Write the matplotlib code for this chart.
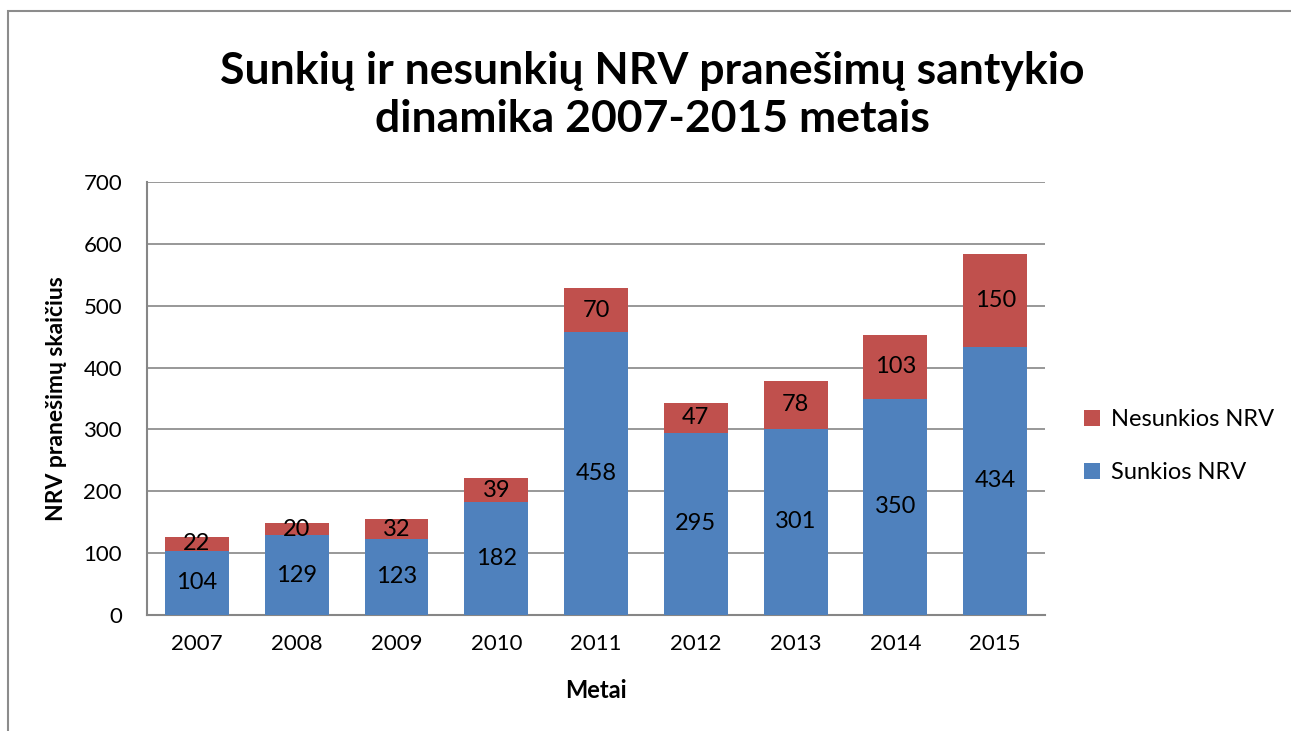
import numpy as np
import matplotlib
matplotlib.use("Agg")
import matplotlib.pyplot as plt
from matplotlib.patches import Rectangle

plt.rcParams["font.family"] = ["Lato", "DejaVu Sans"]

years = ["2007", "2008", "2009", "2010", "2011", "2012", "2013", "2014", "2015"]
sunkios = [104, 129, 123, 182, 458, 295, 301, 350, 434]
nesunkios = [22, 20, 32, 39, 70, 47, 78, 103, 150]

BLUE = "#4F81BD"
RED = "#C0504D"
GRID = "#868686"

fig = plt.figure(figsize=(12.91, 7.31), dpi=100)
ax = fig.add_axes([0.1139, 0.1587, 0.6956, 0.5923])

# ramelis aplink diagramą (dešinė ir apačia už kadro ribų)
fig.patches.append(Rectangle((8 / 1291, -0.1), 1.2, 1 - 10.5 / 731 + 0.1,
                             transform=fig.transFigure, fill=False,
                             edgecolor="#8c8c8c", linewidth=1.5))

x = np.arange(len(years))
w = 0.64
b1 = ax.bar(x, sunkios, w, color=BLUE, label="Sunkios NRV", zorder=3)
b2 = ax.bar(x, nesunkios, w, bottom=sunkios, color=RED, label="Nesunkios NRV", zorder=3)
ax.bar_label(b1, label_type="center", fontsize=17, zorder=4)
ax.bar_label(b2, label_type="center", fontsize=17, zorder=4)

ax.set_xlim(-0.5, len(years) - 0.5)
ax.set_ylim(0, 700)
ax.set_yticks(range(0, 701, 100))
ax.set_xticks(x)
ax.set_xticklabels(years)
ax.tick_params(axis="both", length=0, labelsize=16)
ax.tick_params(axis="x", pad=14)
ax.tick_params(axis="y", pad=18)
ax.yaxis.grid(True, color=GRID, linewidth=1.2, zorder=0)
ax.set_axisbelow(True)
for s in ["top", "right"]:
    ax.spines[s].set_visible(False)
for s in ["left", "bottom"]:
    ax.spines[s].set_color(GRID)
    ax.spines[s].set_linewidth(1.5)

ax.set_ylabel("NRV pranešimų skaičius", fontsize=16.5, fontweight="bold", labelpad=12)
ax.set_xlabel("Metai", fontsize=17, fontweight="bold", labelpad=18)

fig.suptitle("Sunkių ir nesunkių NRV pranešimų santykio\ndinamika 2007-2015 metais",
             x=0.505, y=0.93, fontsize=32, fontweight="bold", linespacing=1.25)

h, l = ax.get_legend_handles_labels()
ax.legend(h[::-1], l[::-1], loc="center left", bbox_to_anchor=(1.02, 0.39),
          frameon=False, fontsize=17, handlelength=0.65, handleheight=0.65,
          handletextpad=0.5, labelspacing=1.35)

fig.savefig("out.png", dpi=100)
